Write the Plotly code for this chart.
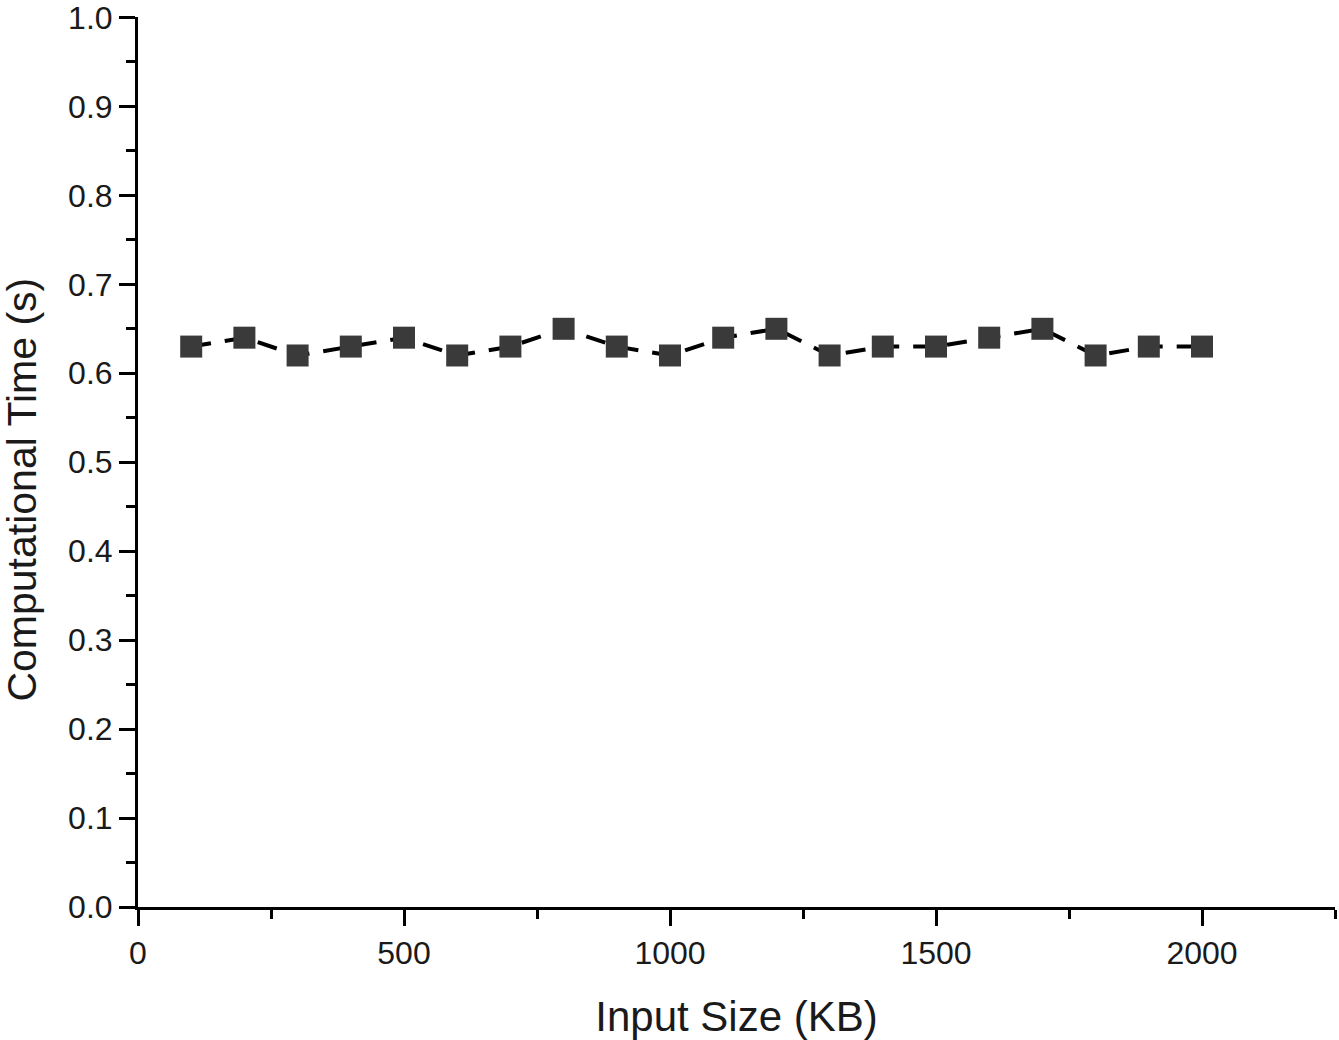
import plotly.graph_objects as go

input_size_kb = [100, 200, 300, 400, 500, 600, 700, 800, 900, 1000,
                 1100, 1200, 1300, 1400, 1500, 1600, 1700, 1800, 1900, 2000]
comp_time_s = [0.63, 0.64, 0.62, 0.63, 0.64, 0.62, 0.63, 0.65, 0.63, 0.62,
               0.64, 0.65, 0.62, 0.63, 0.63, 0.64, 0.65, 0.62, 0.63, 0.63]
x_ticks = [0, 500, 1000, 1500, 2000]
y_ticks = [0.0, 0.1, 0.2, 0.3, 0.4, 0.5, 0.6, 0.7, 0.8, 0.9, 1.0]

FONT = "Liberation Sans, Arial, sans-serif"

fig = go.Figure(go.Scatter(
    x=input_size_kb, y=comp_time_s, mode="lines+markers",
    line=dict(color="#000000", width=4, dash="20px,14px"),
    marker=dict(symbol="square", size=22, color="#3a3a3a", line=dict(width=0)),
    showlegend=False, cliponaxis=False,
))

axis_common = dict(
    showgrid=False, zeroline=False, showline=True, linecolor="#000000", linewidth=3,
    ticks="outside", ticklen=16, tickwidth=3, tickcolor="#000000",
    tickfont=dict(family=FONT, size=32, color="#1a1a1a"),
    automargin=False, ticklabeloverflow="allow",
)

fig.update_layout(
    width=1339, height=1040,
    paper_bgcolor="white", plot_bgcolor="white",
    font=dict(family=FONT, color="#000000"),
    margin=dict(l=138, r=4, t=17, b=133),
    xaxis=dict(
        range=[0, 2250], tickvals=x_ticks,
        minor=dict(ticks="outside", dtick=250, tick0=0, ticklen=9, tickwidth=3, tickcolor="#000000"),
        title=dict(text="Input Size (KB)", font=dict(family=FONT, size=42, color="#1a1a1a"), standoff=32),
        **axis_common,
    ),
    yaxis=dict(
        range=[0, 1.0005], tickvals=y_ticks, tickformat=".1f",
        minor=dict(ticks="outside", dtick=0.05, tick0=0, ticklen=9, tickwidth=3, tickcolor="#000000"),
        **axis_common,
    ),
)

# y title sits a little below the middle of the axis in the original, so place it by hand
fig.add_annotation(
    text="Computational Time (s)", textangle=-90,
    xref="paper", yref="paper", x=0, y=0.469, xanchor="center", yanchor="middle",
    xshift=-116, showarrow=False,
    font=dict(family=FONT, size=41, color="#1a1a1a"),
)

# drop the default 8px body margin so the figure fills the window
fig.write_html("out.html", config={"displayModeBar": False},
               post_script="document.body.style.margin='0';")
